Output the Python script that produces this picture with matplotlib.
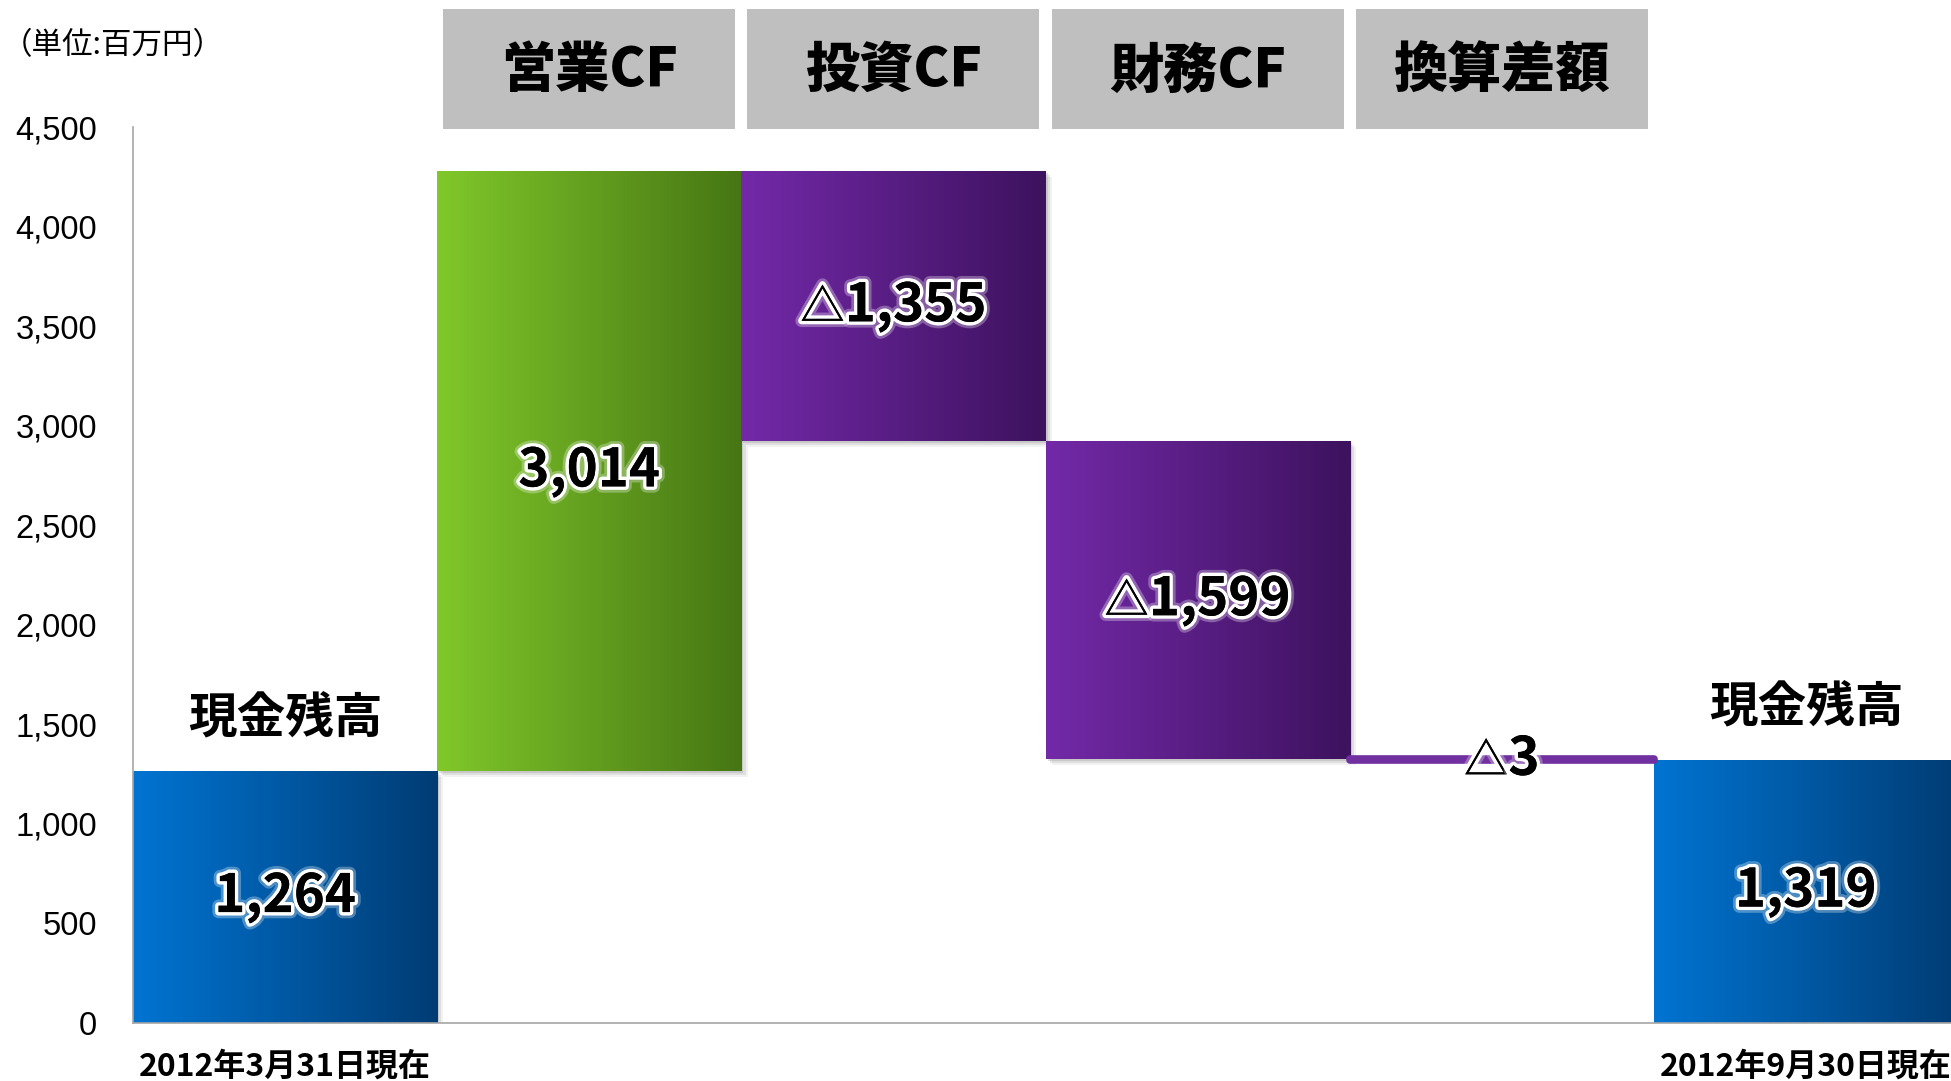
import matplotlib
matplotlib.use('Agg')
import matplotlib.pyplot as plt
import matplotlib.patheffects as pe
from matplotlib.colors import LinearSegmentedColormap
from matplotlib.transforms import blended_transform_factory
from matplotlib.offsetbox import TextArea, HPacker, AnnotationBbox
import numpy as np

plt.rcParams['font.family'] = ['Noto Sans CJK JP', 'DejaVu Sans']

# cash flow waterfall (百万円)
opening = 1264
flows = [3014, -1355, -1599, -3]
closing = 1319
flow_names = ['営業CF', '投資CF', '財務CF', '換算差額']
date_labels = ['2012年3月31日現在', '2012年9月30日現在']
balance_label = '現金残高'
unit_label = '（単位:百万円）'
yticks = [0, 500, 1000, 1500, 2000, 2500, 3000, 3500, 4000, 4500]

# gradient colours (left -> right) per bar
blue = ('#0074D2', '#003C74')
green = ('#80C82A', '#467614')
purple = ('#7329A8', '#3D125E')
line_purple = '#7030A0'

# bottoms and heights of every bar
bottoms = [0]
heights = [opening]
level = opening
for f in flows:
    bottoms.append(level)
    heights.append(f)
    level += f
bottoms.append(0)
heights.append(closing)
values = [opening] + flows + [closing]
colors = [blue] + [green if f > 0 else purple for f in flows] + [blue]
xs = np.arange(len(values))

fig = plt.figure(figsize=(19.51, 10.81), dpi=100)
ax = fig.add_axes([0.0682, 0.0541, 0.9354, 0.8284])

shadow = [pe.SimplePatchShadow(offset=(1.5, -1.5), shadow_rgbFace='#888888', alpha=0.25),
          pe.SimplePatchShadow(offset=(3, -3), shadow_rgbFace='#888888', alpha=0.18),
          pe.SimplePatchShadow(offset=(4.5, -4.5), shadow_rgbFace='#888888', alpha=0.10),
          pe.Normal()]

bars = ax.bar(xs, heights, bottom=bottoms, width=1.0, color=[c[0] for c in colors],
              linewidth=0, zorder=2)

grad = np.linspace(0, 1, 256).reshape(1, -1)
for i, bar in enumerate(bars):
    y0 = bar.get_y()
    y1 = y0 + bar.get_height()
    if abs(values[i]) < 50:
        # tiny change drawn as a thick rounded line
        bar.set_facecolor(line_purple)
        bar.set_edgecolor(line_purple)
        bar.set_linewidth(5.5)
        bar.set_joinstyle('round')
        bar.set_path_effects([pe.SimplePatchShadow(offset=(2, -2), shadow_rgbFace='#888888', alpha=0.25),
                              pe.Normal()])
        bar.set_zorder(3)
        continue
    bar.set_path_effects(shadow)
    cmap = LinearSegmentedColormap.from_list(f'g{i}', list(colors[i]))
    im = ax.imshow(grad, extent=(bar.get_x(), bar.get_x() + bar.get_width(), min(y0, y1), max(y0, y1)),
                   aspect='auto', cmap=cmap, zorder=2.5, interpolation='bilinear')
    im.set_clip_path(bar)

glow = [pe.withStroke(linewidth=9, foreground='white', alpha=0.3),
        pe.withStroke(linewidth=5, foreground='white'),
        pe.Normal()]

# value labels; negatives get a △ in front
for i, bar in enumerate(bars):
    cy = bar.get_y() + bar.get_height() / 2
    v = values[i]
    num = TextArea(f'{abs(v):,}', textprops=dict(fontsize=38, fontweight='bold', color='black',
                                                  path_effects=glow))
    parts = [num]
    if v < 0:
        tri = TextArea('△', textprops=dict(fontsize=32, fontweight='bold', color='black',
                                           path_effects=glow))
        parts = [tri, num]
    box = HPacker(children=parts, align='baseline', pad=0, sep=0)
    ab = AnnotationBbox(box, (xs[i], cy), xycoords='data', frameon=False, pad=0,
                        box_alignment=(0.5, 0.5), zorder=5)
    ax.add_artist(ab)

# 現金残高 labels above the balance bars
for i in (0, len(values) - 1):
    ax.annotate(balance_label, (xs[i], heights[i]), xytext=(0, 38), textcoords='offset points',
                ha='center', va='center', fontsize=35, fontweight='bold', zorder=5)

# header boxes for each flow
trans = blended_transform_factory(ax.transData, ax.transAxes)
for j, name in enumerate(flow_names):
    xc = xs[j + 1]
    ax.add_patch(plt.Rectangle((xc - 0.48, 0.998), 0.96, 0.134, transform=trans,
                               facecolor='#BFBFBF', edgecolor='none', clip_on=False, zorder=4))
    ax.text(xc, 1.0625, name, transform=trans, ha='center', va='center', fontsize=39,
            fontweight='black', clip_on=False, zorder=5)

ax.set_xlim(-0.5, len(values) - 0.5)
ax.set_ylim(0, 4500)
ax.set_yticks(yticks)
ax.set_yticklabels([f'{t:,}' for t in yticks], family='Liberation Sans', fontsize=23.5)
ax.set_xticks([xs[0], xs[-1]])
ax.set_xticklabels(date_labels, fontsize=23, fontweight='bold')
ax.tick_params(axis='y', length=0, pad=26)
ax.tick_params(axis='x', length=0, pad=20)

for s in ('top', 'right'):
    ax.spines[s].set_visible(False)
for s in ('left', 'bottom'):
    ax.spines[s].set_color('#A6A6A6')
    ax.spines[s].set_linewidth(1.2)

fig.text(2 / 1951, 1 - 46 / 1081, unit_label, ha='left', va='center', fontsize=22)

fig.savefig('out.png', dpi=100)
